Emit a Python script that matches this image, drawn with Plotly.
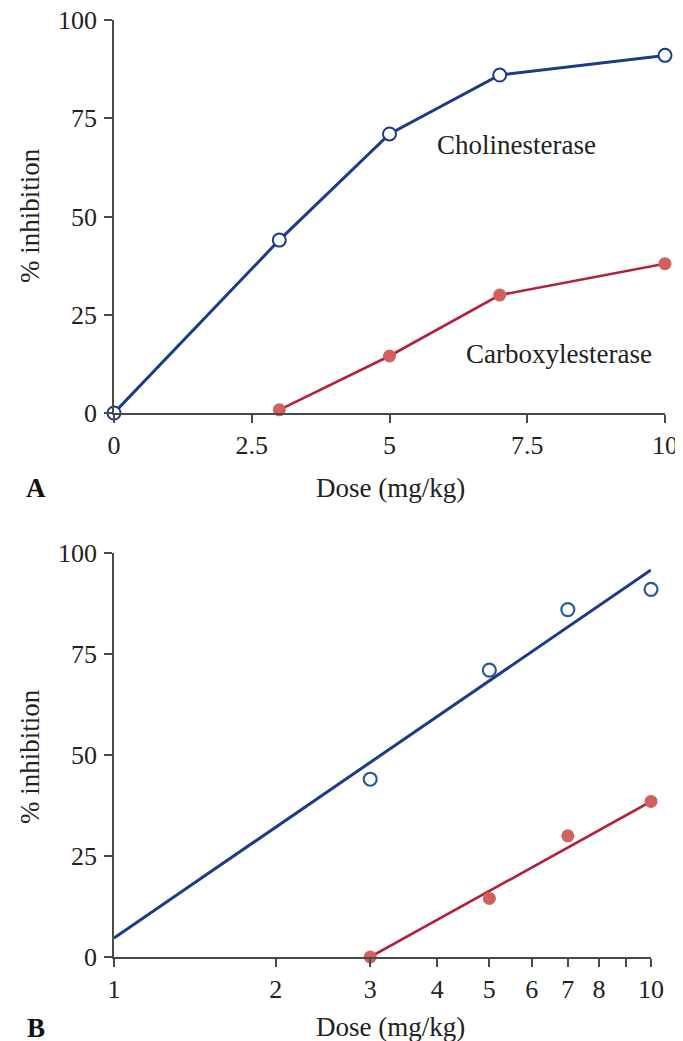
import plotly.graph_objects as go

# ---------------- data ----------------
dose_a = [0, 3, 5, 7, 10]
chol_a = [0, 44, 71, 86, 91]
dose_carb_a = [3, 5, 7, 10]
carb_a = [0.8, 14.5, 30, 38]

dose_b = [3, 5, 7, 10]
chol_b = [44, 71, 86, 91]
carb_b = [0, 14.5, 30, 38.5]

fit_chol_x = [1, 10]
fit_chol_y = [4.7, 95.8]
fit_carb_x = [3, 10]
fit_carb_y = [0, 38.5]

xticks_a = [0, 2.5, 5, 7.5, 10]
xticktext_a = ["0", "2.5", "5", "7.5", "10"]
xticks_b = [1, 2, 3, 4, 5, 6, 7, 8, 9, 10]
xticktext_b = ["1", "2", "3", "4", "5", "6", "7", "8", "", "10"]
yticks = [0, 25, 50, 75, 100]

# ---------------- style ----------------
OFF = 8  # default page body margin
W, H = 683, 1041
BLUE = "#1c3b88"
BLUE_M = "#2a5a9c"
RED = "#b3213e"
RED_M = "#d2605f"
AX = "#4a4a4a"
FONT = "Liberation Serif"

fig = go.Figure()

# Panel A
fig.add_trace(go.Scatter(x=dose_a, y=chol_a, mode="lines+markers",
                         line=dict(color=BLUE, width=3),
                         marker=dict(symbol="circle", size=13, color="white",
                                     line=dict(color=BLUE, width=2)),
                         cliponaxis=False, xaxis="x", yaxis="y", showlegend=False))
fig.add_trace(go.Scatter(x=dose_carb_a, y=carb_a, mode="lines+markers",
                         line=dict(color=RED, width=2.6),
                         marker=dict(symbol="circle", size=13, color=RED_M),
                         cliponaxis=False, xaxis="x", yaxis="y", showlegend=False))

# Panel B
fig.add_trace(go.Scatter(x=fit_chol_x, y=fit_chol_y, mode="lines",
                         line=dict(color=BLUE, width=3),
                         cliponaxis=False, xaxis="x2", yaxis="y2", showlegend=False))
fig.add_trace(go.Scatter(x=fit_carb_x, y=fit_carb_y, mode="lines",
                         line=dict(color=RED, width=2.6),
                         cliponaxis=False, xaxis="x2", yaxis="y2", showlegend=False))
fig.add_trace(go.Scatter(x=dose_b, y=chol_b, mode="markers",
                         marker=dict(symbol="circle-open", size=13, color=BLUE_M,
                                     line=dict(width=2.2)),
                         cliponaxis=False, xaxis="x2", yaxis="y2", showlegend=False))
fig.add_trace(go.Scatter(x=dose_b, y=carb_b, mode="markers",
                         marker=dict(symbol="circle", size=13, color=RED_M),
                         cliponaxis=False, xaxis="x2", yaxis="y2", showlegend=False))

def px_x(p):
    return (p - OFF) / W

def px_y(p):
    return 1 - (p - OFF) / H

axis_common = dict(showline=True, linecolor=AX, linewidth=1.6, ticks="outside",
                   ticklen=8, tickwidth=1.6, tickcolor=AX, showgrid=False,
                   zeroline=False, automargin=False, ticklabeloverflow="allow",
                   tickfont=dict(family=FONT, size=26, color="#222"))

fig.update_layout(
    width=W, height=H, autosize=False,
    margin=dict(l=0, r=0, t=0, b=0),
    paper_bgcolor="white", plot_bgcolor="white",
    xaxis=dict(domain=[px_x(114), px_x(665)], range=[0, 10], anchor="y",
               tickvals=xticks_a, ticktext=xticktext_a, **axis_common),
    yaxis=dict(domain=[px_y(413), px_y(20)], range=[0, 100], anchor="x",
               tickvals=yticks, ticklabelstandoff=2, **axis_common),
    xaxis2=dict(domain=[px_x(114), px_x(651)], type="log", range=[0, 1], anchor="y2",
                tickvals=xticks_b, ticktext=xticktext_b, **axis_common),
    yaxis2=dict(domain=[px_y(957), px_y(553)], range=[0, 100], anchor="x2",
                tickvals=yticks, ticklabelstandoff=2, **axis_common),
)

txt = dict(family=FONT, size=27, color="#222")
c = dict(showarrow=False, xanchor="center", yanchor="middle")
ann = [
    dict(x=7.31, y=68.2, xref="x", yref="y", text="Cholinesterase", font=txt, **c),
    dict(x=8.08, y=15.0, xref="x", yref="y", text="Carboxylesterase", font=txt, **c),
    dict(x=px_x(390), y=px_y(488), xref="paper", yref="paper", text="Dose (mg/kg)",
         font=txt, **c),
    dict(x=px_x(390), y=px_y(1027), xref="paper", yref="paper", text="Dose (mg/kg)",
         font=txt, **c),
    dict(x=px_x(30), y=px_y(216), xref="paper", yref="paper", text="% inhibition",
         textangle=-90, font=txt, **c),
    dict(x=px_x(30), y=px_y(757), xref="paper", yref="paper", text="% inhibition",
         textangle=-90, font=txt, **c),
    dict(x=px_x(36), y=px_y(488), xref="paper", yref="paper", text="<b>A</b>",
         font=dict(family=FONT, size=27, color="#111"), **c),
    dict(x=px_x(36), y=px_y(1028), xref="paper", yref="paper", text="<b>B</b>",
         font=dict(family=FONT, size=27, color="#111"), **c),
]
fig.update_layout(annotations=ann)

fig.write_html("out.html")
